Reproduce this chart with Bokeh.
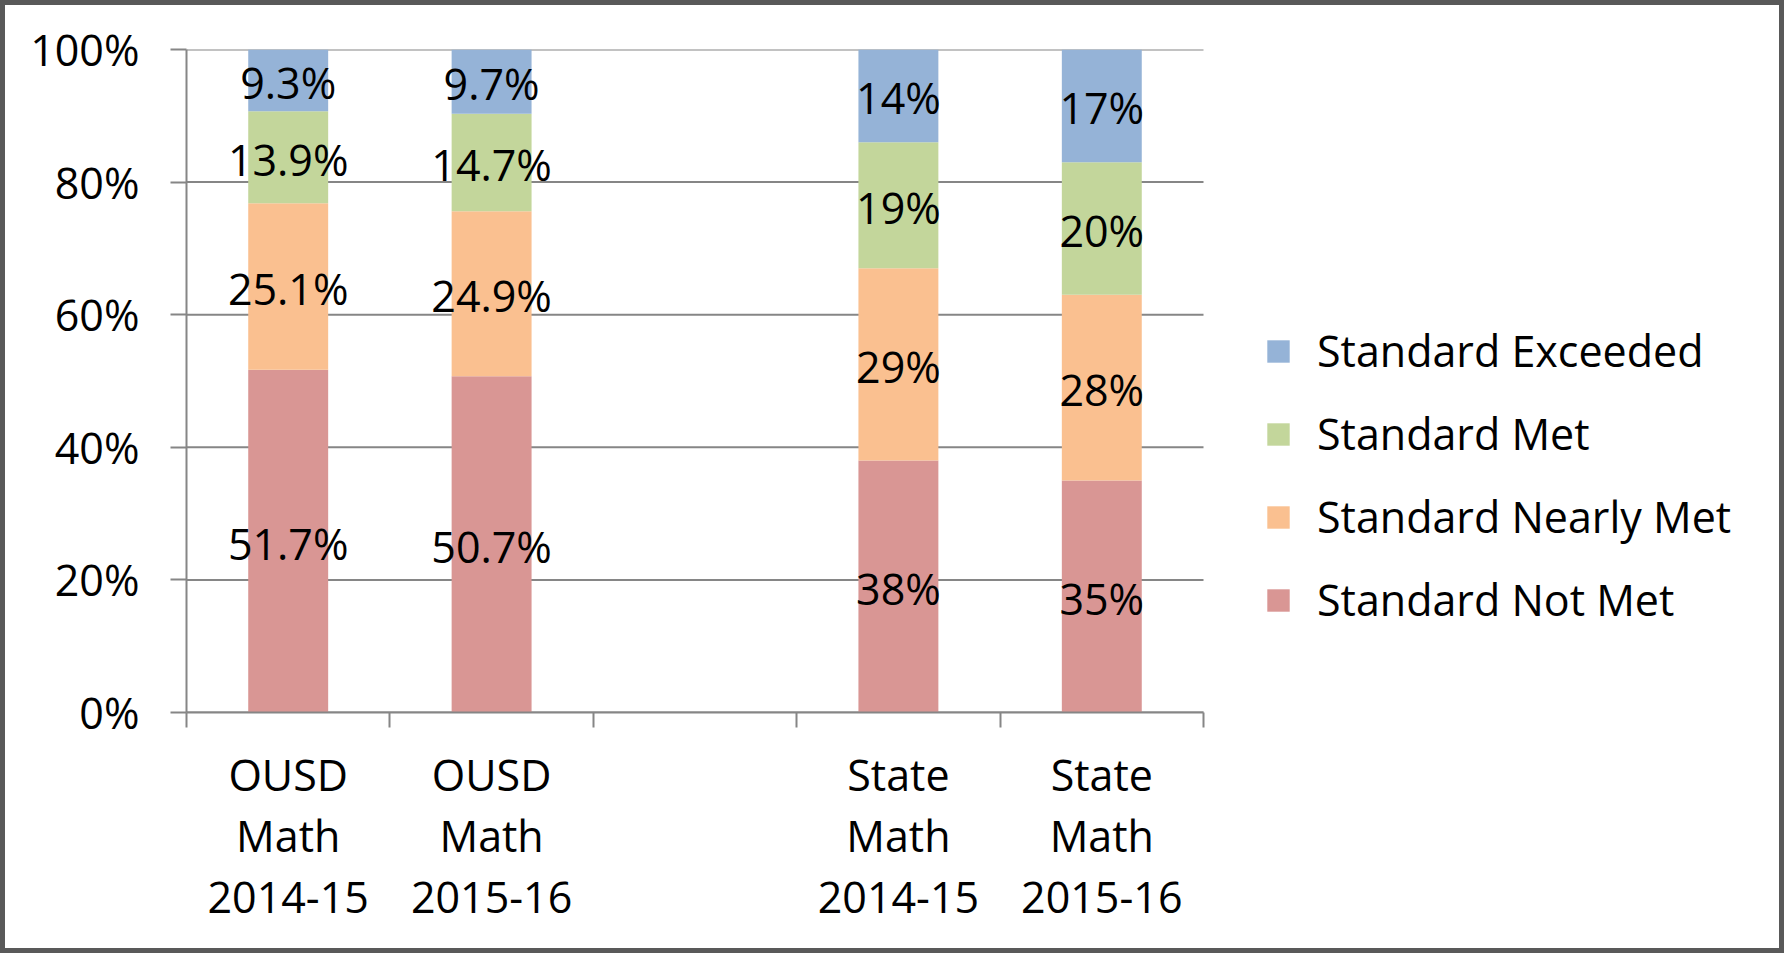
from bokeh.plotting import figure
from bokeh.models import (Range1d, FixedTicker, PrintfTickFormatter, Legend,
                          LegendItem, ColumnDataSource)
from bokeh.embed import file_html
from bokeh.resources import INLINE
from bokeh.core.properties import value

# ---- data ----
slots = ["OUSD Math 2014-15", "OUSD Math 2015-16", "",
         "State Math 2014-15", "State Math 2015-16"]
groups = ["OUSD Math 2014-15", "OUSD Math 2015-16",
          "State Math 2014-15", "State Math 2015-16"]
series_names = ["Standard Not Met", "Standard Nearly Met",
                "Standard Met", "Standard Exceeded"]
not_met = [51.7, 50.7, 38, 35]
nearly_met = [25.1, 24.9, 29, 28]
met = [13.9, 14.7, 19, 20]
exceeded = [9.3, 9.7, 14, 17]
y_ticks = [0, 20, 40, 60, 80, 100]

colors = ["#D99694", "#FAC090", "#C3D69B", "#95B3D7"]
FONT = "Open Sans"
FS = "43px"
GRAY = "#868686"

# layout (pixels)
W, H = 1784, 953
LEFT, RIGHT_AXIS_END, TOP, BOTTOM = 186, 1203, 49, 241

series = [not_met, nearly_met, met, exceeded]
keys = ["not_met", "nearly_met", "met", "exceeded"]
xpos = [slots.index(g) for g in groups]
x_lo, x_hi = -0.5, len(slots) - 0.5
# frame spans to the right edge so the legend sits inside it
x_end = x_lo + (x_hi - x_lo) * (W - LEFT) / (RIGHT_AXIS_END - LEFT)

source = ColumnDataSource(dict(x=xpos, **{k: v for k, v in zip(keys, series)}))

p = figure(width=W, height=H,
           x_range=Range1d(x_lo, x_end), y_range=Range1d(0, 100),
           output_backend="svg", toolbar_location=None,
           min_border_left=LEFT, min_border_right=0,
           min_border_top=TOP, min_border_bottom=BOTTOM)
p.outline_line_color = None
p.background_fill_alpha = 0
p.border_fill_alpha = 0
p.styles = {"background-color": "white",
            "box-shadow": "inset 0 0 0 5px #595959"}

# horizontal gridlines limited to the category area
p.segment(x0=[x_lo] * len(y_ticks), x1=[x_hi] * len(y_ticks),
          y0=y_ticks, y1=y_ticks, line_color=GRAY, line_width=2,
          level="underlay")

renderers = p.vbar_stack(keys, x="x", width=0.393, color=colors,
                         line_width=0, source=source)

# data labels
lx, ly, lt = [], [], []
bottoms = [0.0] * len(groups)
for vals in series:
    for i, v in enumerate(vals):
        lx.append(xpos[i])
        ly.append(bottoms[i] + v / 2.0)
        lt.append(f"{v:g}%")
        bottoms[i] += v
p.text(x=lx, y=ly, text=lt, text_font=value(FONT), text_font_size=FS,
       text_align="center", text_baseline="middle", text_color="black",
       y_offset=2)

# x axis: labels at slot centres, ticks at slot boundaries
xa = p.xaxis[0]
xa.bounds = (x_lo, x_hi)
xa.ticker = FixedTicker(ticks=xpos,
                        minor_ticks=[i - 0.5 for i in range(len(slots) + 1)])
xa.major_label_overrides = {i: s.replace(" ", "\n")
                            for i, s in enumerate(slots) if s}
xa.major_tick_out = 0
xa.major_tick_in = 0
xa.minor_tick_out = 15
xa.minor_tick_in = 0
xa.minor_tick_line_color = GRAY
xa.minor_tick_line_width = 2
xa.axis_line_color = GRAY
xa.axis_line_width = 2
xa.major_label_standoff = 17
xa.major_label_text_font = FONT
xa.major_label_text_font_size = FS
xa.major_label_text_color = "black"
xa.major_label_text_line_height = 1.04

ya = p.yaxis[0]
ya.ticker = FixedTicker(ticks=y_ticks)
ya.formatter = PrintfTickFormatter(format="%d%%")
ya.major_tick_out = 16
ya.major_tick_in = 0
ya.minor_tick_out = 0
ya.minor_tick_in = 0
ya.major_tick_line_color = GRAY
ya.major_tick_line_width = 2
ya.axis_line_color = GRAY
ya.axis_line_width = 2
ya.major_label_standoff = 31
ya.major_label_text_font = FONT
ya.major_label_text_font_size = FS
ya.major_label_text_color = "black"

p.xgrid.visible = False
p.ygrid.visible = False

items = [LegendItem(label=n, renderers=[r])
         for n, r in reversed(list(zip(series_names, renderers)))]
legend = Legend(items=items, location=(1264 - LEFT, 83), padding=0, margin=0,
                spacing=24, glyph_width=28, glyph_height=28,
                label_standoff=25, label_height=40,
                label_text_font=FONT, label_text_font_size=FS,
                label_text_color="black", border_line_color=None,
                background_fill_alpha=0)
p.add_layout(legend)

open("out.html", "w").write(file_html(p, INLINE))
